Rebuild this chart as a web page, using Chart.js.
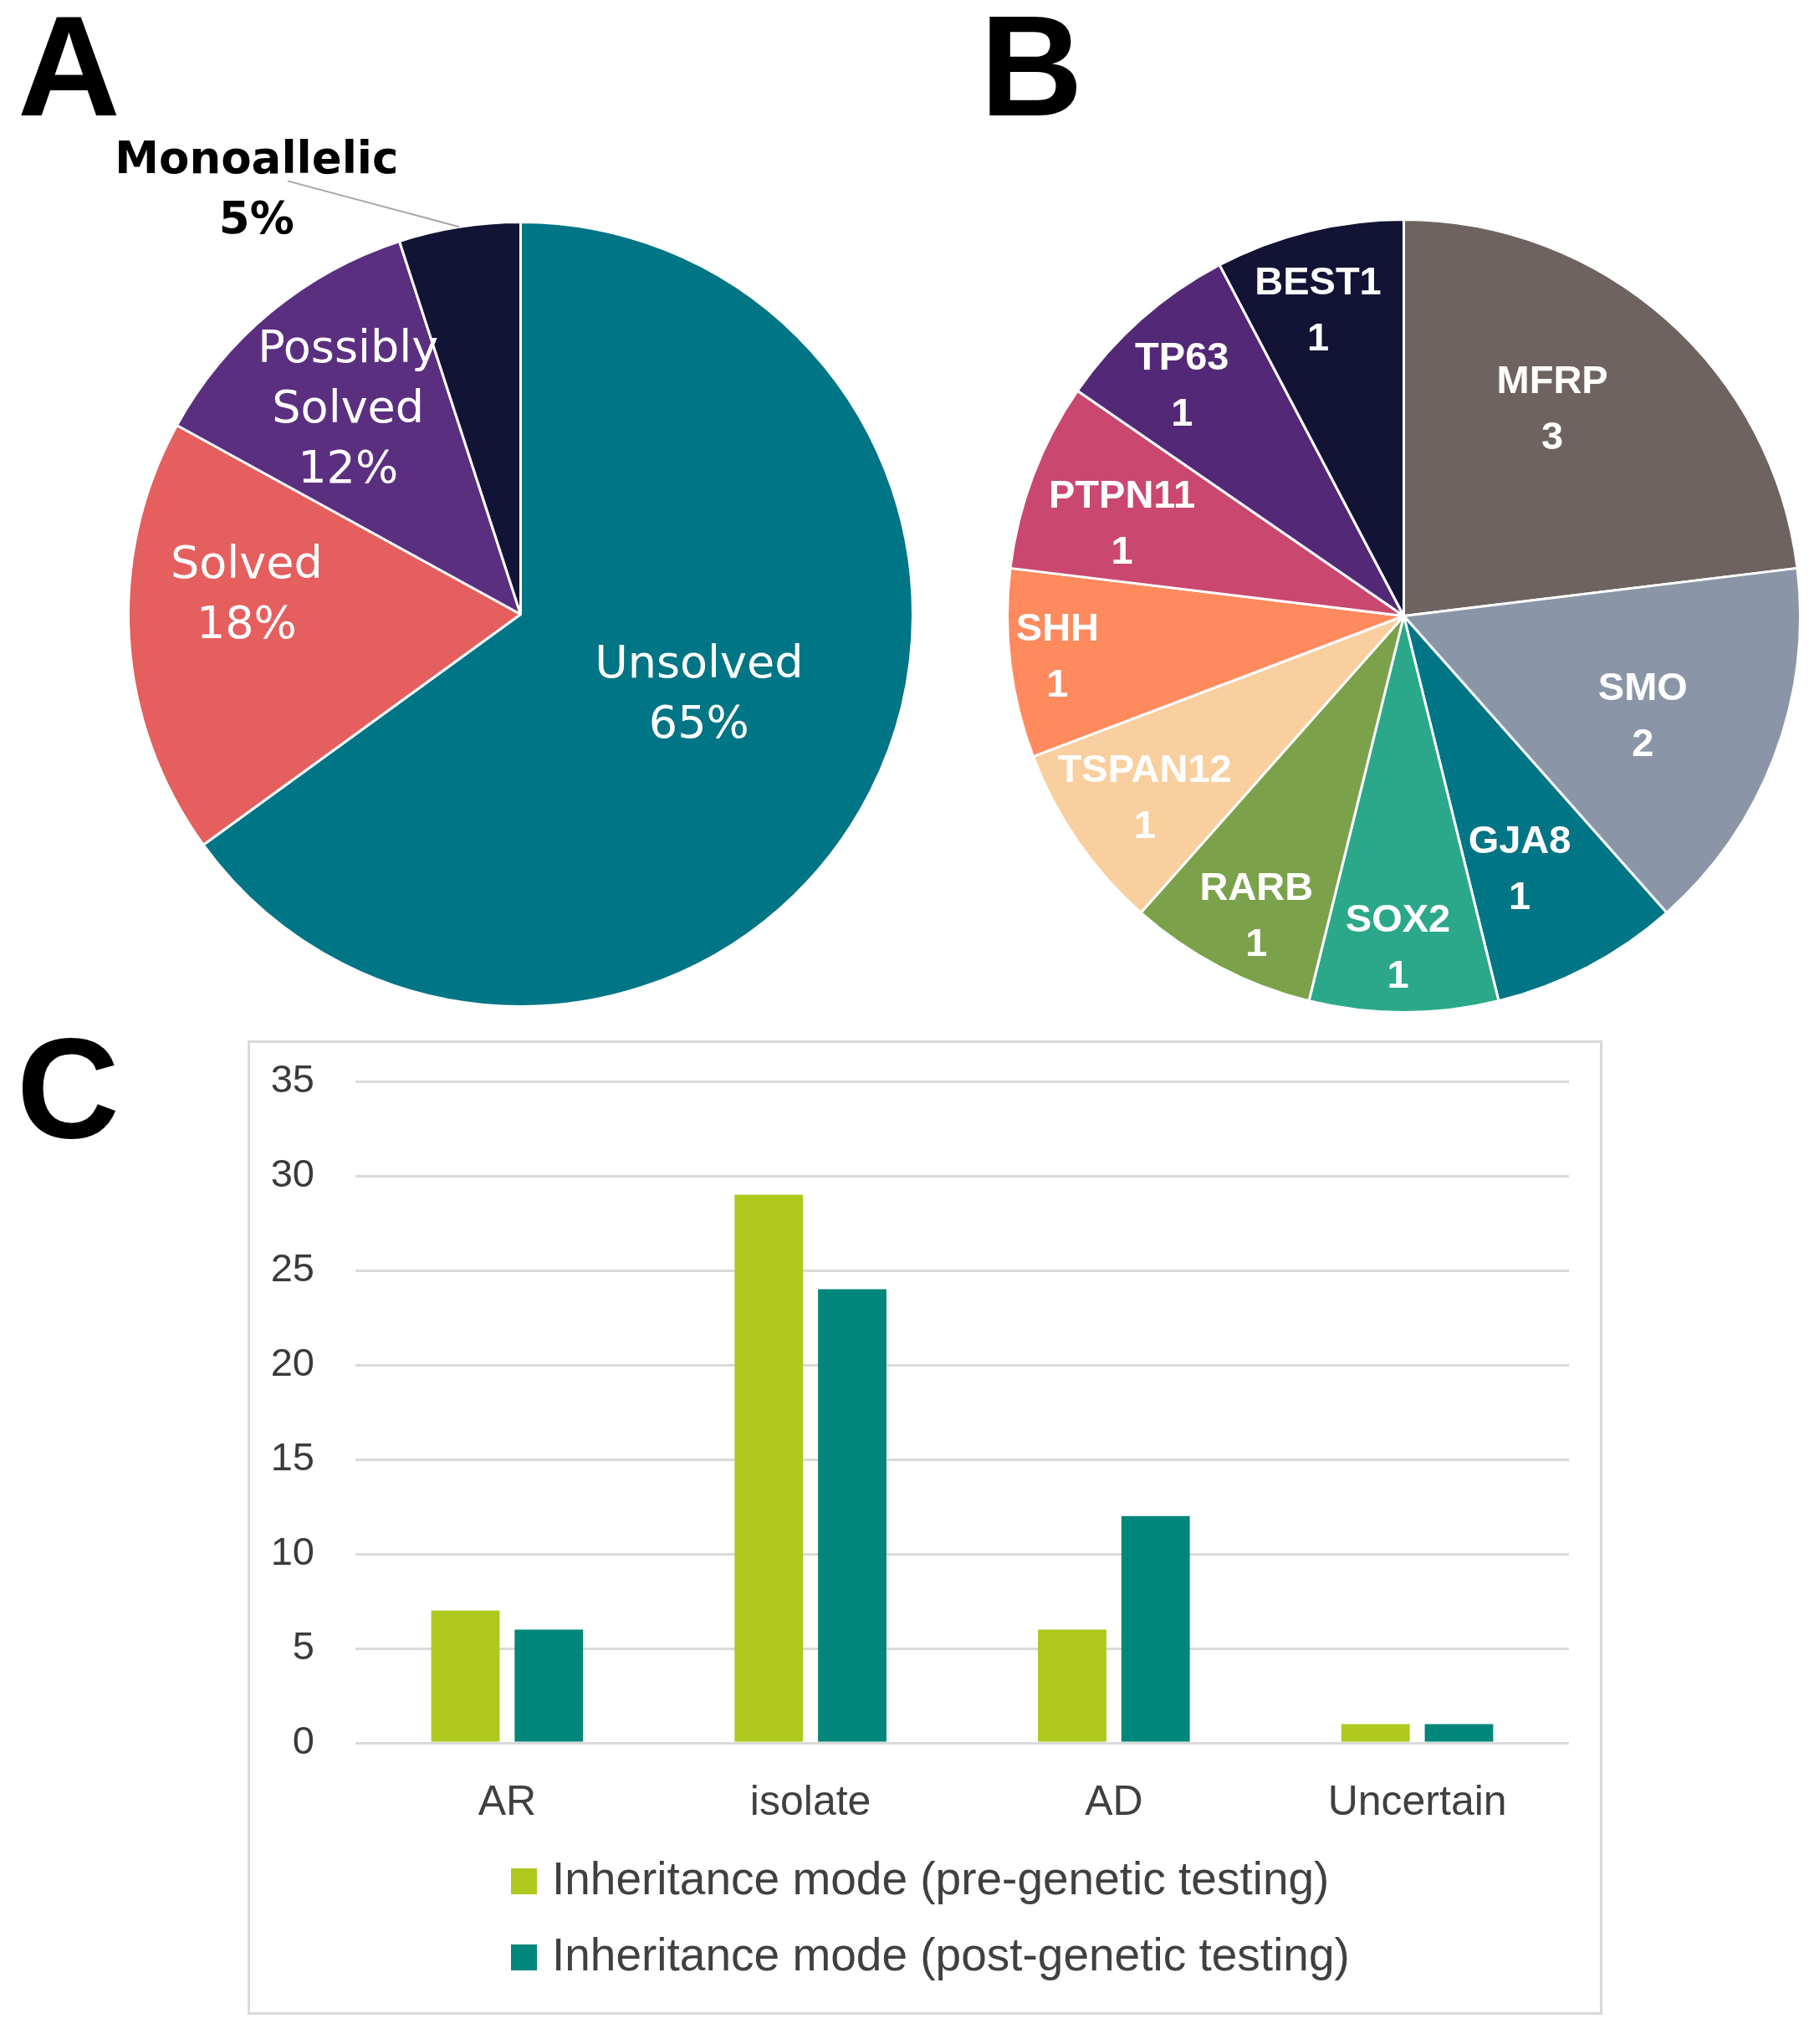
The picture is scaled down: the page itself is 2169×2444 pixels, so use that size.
<!DOCTYPE html>
<html>
<head>
<meta charset="utf-8">
<script src="https://cdn.jsdelivr.net/npm/chart.js@4.4.1/dist/chart.umd.min.js"></script>
<style>
  body { margin: 0; background: #fff; width: 2169px; height: 2444px; position: relative; overflow: hidden; }
  .letter { position: absolute; font: bold 170px/170px "Liberation Sans", Arial, sans-serif; color: #000; }
  .panel { position: absolute; }
  #boxC { position: absolute; left: 296px; top: 1244px; width: 1620px; height: 1165px; border: 3px solid #D9D9D9; box-sizing: border-box; }
  #boxC .inner { position: relative; width: 1614px; height: 1159px; }
</style>
</head>
<body>
<div class="letter" style="left:21px;top:-6px">A</div>
<div class="letter" style="left:1172px;top:-6px">B</div>
<div class="letter" style="left:20px;top:1216px">C</div>

<div class="panel" style="left:0;top:0;width:1100px;height:1230px"><canvas id="pieA"></canvas></div>
<div class="panel" style="left:1100px;top:0;width:1069px;height:1230px"><canvas id="pieB"></canvas></div>
<div id="boxC"><div class="inner"><canvas id="barC"></canvas></div></div>

<script>
// Panel A: diagnostic outcome (%)
var outcomeLabels = ['Unsolved', 'Solved', 'Possibly Solved', 'Monoallelic'];
var outcomeValues = [65, 18, 12, 5];
var outcomeColors = ['#007585', '#E45F5E', '#5B2F80', '#111434'];

// Panel B: genes in solved cases (counts)
var geneLabels = ['MFRP', 'SMO', 'GJA8', 'SOX2', 'RARB', 'TSPAN12', 'SHH', 'PTPN11', 'TP63', 'BEST1'];
var geneCounts = [3, 2, 1, 1, 1, 1, 1, 1, 1, 1];
var geneColors = ['#6E6360', '#8A96A8', '#007585', '#2BA88A', '#7BA24B', '#F9CF9F', '#FF8A5E', '#CA4870', '#532876', '#131336'];

// Panel C: inheritance mode
var modeCategories = ['AR', 'isolate', 'AD', 'Uncertain'];
var preTesting = [7, 29, 6, 1];
var postTesting = [6, 24, 12, 1];
var seriesNames = ['Inheritance mode (pre-genetic testing)', 'Inheritance mode (post-genetic testing)'];
var yMax = 35;
var yStep = 5;

// label placement (fraction of radius, extra turn in degrees)
var placeA = [
  { r: 0.50, turn: -2.5 },
  { r: 0.70, turn: 7.4 },
  { r: 0.68, turn: -0.7 },
  { r: 1.27, turn: -23, color: '#000', font: 'bold 53px "DejaVu Sans", sans-serif', leader: { dx: 37, dy: -13 } }
];
var placeB = [
  { r: 0.64, turn: -5.7 }, { r: 0.655, turn: 2.2 }, { r: 0.705, turn: 3.2 }, { r: 0.84, turn: 1 },
  { r: 0.845, turn: -1.6 }, { r: 0.80, turn: -0.6 }, { r: 0.88, turn: 0 }, { r: 0.747, turn: -2.9 },
  { r: 0.805, turn: -2.5 }, { r: 0.797, turn: -1.9 }
];

var sliceLabels = {
  id: 'sliceLabels',
  afterDatasetsDraw: function (chart, args, opts) {
    var ctx = chart.ctx;
    var meta = chart.getDatasetMeta(0);
    var data = chart.data.datasets[0].data;
    ctx.save();
    ctx.textAlign = 'center';
    ctx.textBaseline = 'middle';
    meta.data.forEach(function (arc, i) {
      var p = opts.place[i] || { r: 0.6 };
      var lines = chart.data.labels[i].split(' ');
      lines.push(data[i] + opts.suffix);
      var mid = (arc.startAngle + arc.endAngle) / 2;
      var ang = mid + (p.turn || 0) * Math.PI / 180;
      var r = arc.outerRadius * p.r;
      var x = arc.x + Math.cos(ang) * r;
      var y = arc.y + Math.sin(ang) * r;
      var lh = p.lineHeight || opts.lineHeight;
      var top = y - (lines.length - 1) * lh / 2;
      ctx.font = p.font || opts.font;
      ctx.fillStyle = p.color || opts.color;
      lines.forEach(function (t, k) {
        ctx.fillText(t, x, top + k * lh);
      });
      if (p.leader) {
        ctx.strokeStyle = '#A6A6A6';
        ctx.lineWidth = 2;
        ctx.beginPath();
        ctx.moveTo(x + p.leader.dx, y + p.leader.dy);
        ctx.lineTo(arc.x + Math.cos(mid) * arc.outerRadius, arc.y + Math.sin(mid) * arc.outerRadius);
        ctx.stroke();
      }
    });
    ctx.restore();
  }
};

var stackedLegend = {
  id: 'stackedLegend',
  afterDraw: function (chart, args, opts) {
    var ctx = chart.ctx;
    var area = chart.chartArea;
    ctx.save();
    ctx.font = opts.font;
    ctx.textAlign = 'left';
    ctx.textBaseline = 'alphabetic';
    chart.data.datasets.forEach(function (ds, i) {
      var left = area.left + opts.offsetX;
      var top = area.bottom + opts.offsetY + i * opts.rowGap;
      ctx.fillStyle = ds.backgroundColor;
      ctx.fillRect(left, top, opts.box, opts.box);
      ctx.fillStyle = opts.color;
      ctx.fillText(ds.label, left + opts.box + opts.gap, top + opts.box);
    });
    ctx.restore();
  }
};

function pieChart(id, labels, values, colors, padding, labelOpts) {
  return new Chart(document.getElementById(id), {
    type: 'pie',
    data: {
      labels: labels,
      datasets: [{ data: values, backgroundColor: colors, borderColor: '#fff', borderWidth: 3 }]
    },
    plugins: [sliceLabels],
    options: {
      responsive: true,
      maintainAspectRatio: false,
      animation: false,
      layout: { padding: padding },
      plugins: {
        legend: { display: false },
        tooltip: { enabled: false },
        sliceLabels: labelOpts
      }
    }
  });
}

pieChart('pieA', outcomeLabels, outcomeValues, outcomeColors,
  { left: 152, right: 7, top: 264, bottom: 25 },
  { place: placeA, suffix: '%', font: '54px "DejaVu Sans", sans-serif', color: '#fff', lineHeight: 72 });

pieChart('pieB', geneLabels, geneCounts, geneColors,
  { left: 103, right: 15, top: 261, bottom: 18 },
  { place: placeB, suffix: '', font: 'bold 47px "Liberation Sans", Arial, sans-serif', color: '#fff', lineHeight: 67 });

var axisFont = { family: '"Liberation Sans", Arial, sans-serif', size: 47 };

new Chart(document.getElementById('barC'), {
  type: 'bar',
  data: {
    labels: modeCategories,
    datasets: [
      { label: seriesNames[0], data: preTesting, backgroundColor: '#AFC81D', categoryPercentage: 0.55, barPercentage: 0.82 },
      { label: seriesNames[1], data: postTesting, backgroundColor: '#00867A', categoryPercentage: 0.55, barPercentage: 0.82 }
    ]
  },
  plugins: [stackedLegend],
  options: {
    responsive: true,
    maintainAspectRatio: false,
    animation: false,
    layout: { padding: { left: 0, right: 37, top: 46, bottom: 0 } },
    plugins: {
      legend: { display: false },
      tooltip: { enabled: false },
      stackedLegend: {
        font: '55px "Liberation Sans", Arial, sans-serif',
        color: '#404040',
        offsetX: 186,
        offsetY: 150,
        rowGap: 91,
        box: 31,
        gap: 18
      }
    },
    scales: {
      x: {
        grid: { display: false },
        border: { display: false },
        ticks: { color: '#404040', font: { family: axisFont.family, size: 50 }, padding: 34 },
        afterFit: function (scale) { scale.height = 322; }
      },
      y: {
        min: 0,
        max: yMax,
        ticks: { stepSize: yStep, color: '#3A3A3A', font: axisFont, padding: 0 },
        grid: { color: '#D9D9D9', lineWidth: 3, drawTicks: true, tickLength: 49, tickColor: 'rgba(0,0,0,0)' },
        border: { display: false },
        afterFit: function (scale) { scale.width = 126; }
      }
    }
  }
});
</script>
</body>
</html>
